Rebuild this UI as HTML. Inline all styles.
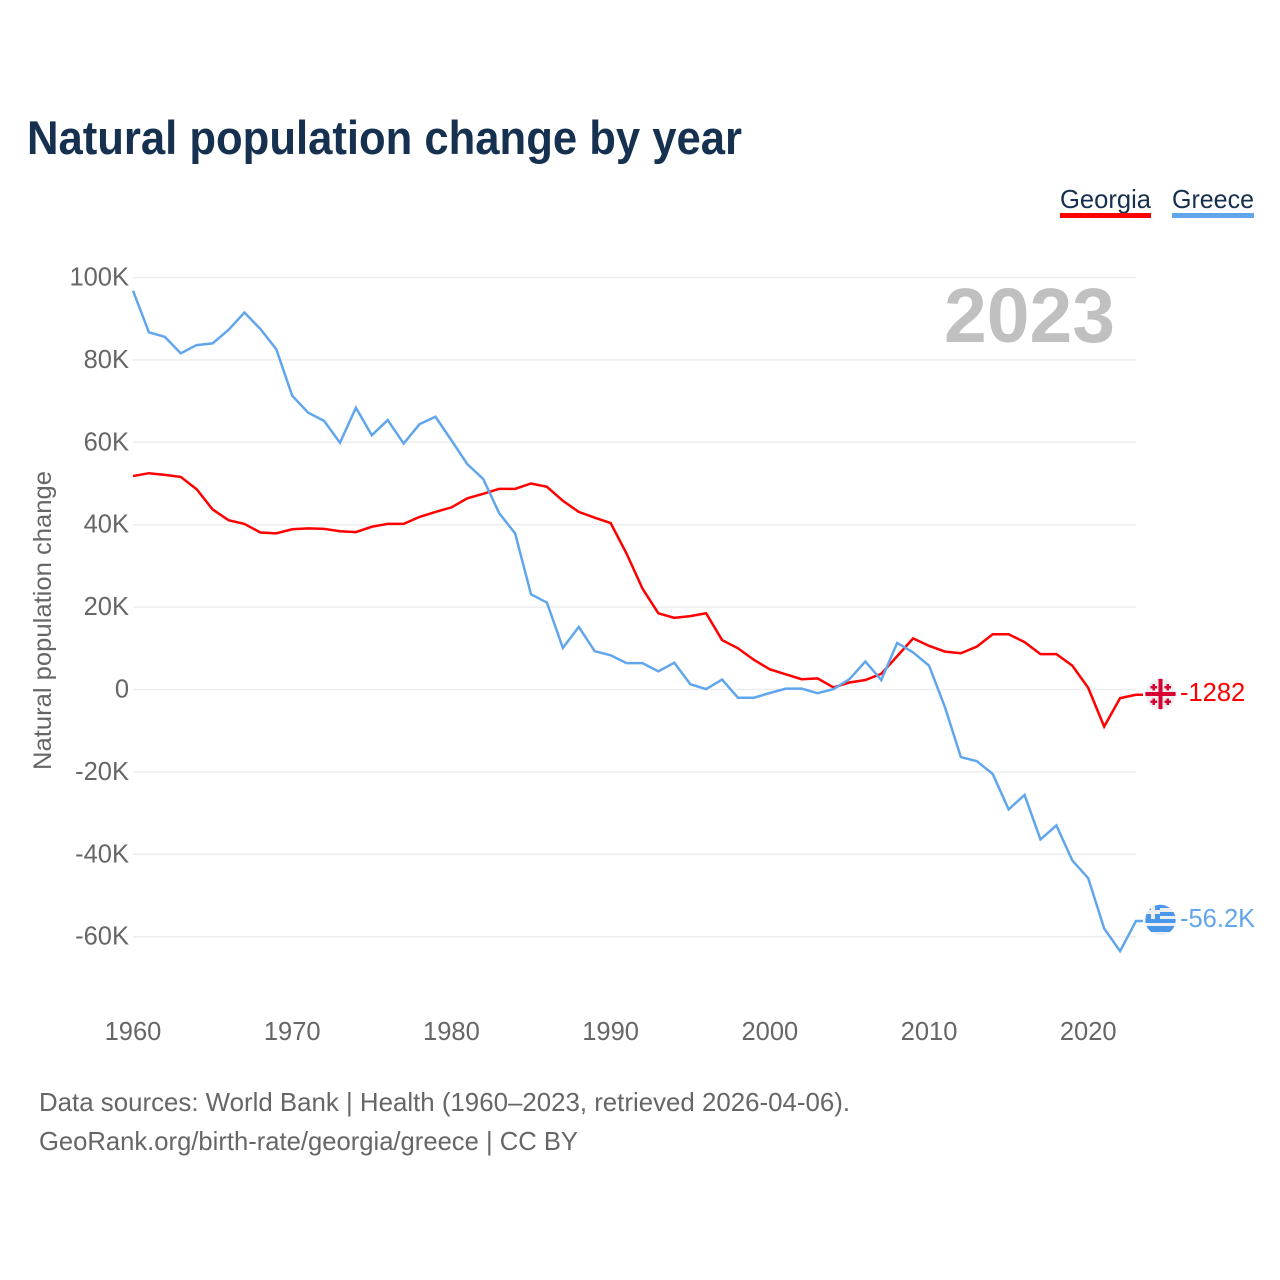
<!DOCTYPE html>
<html lang="en">
<head>
<meta charset="utf-8">
<title>Natural population change by year</title>
<style>
html,body{margin:0;padding:0;background:#fff;}
svg{display:block;font-family:"Liberation Sans",sans-serif;}
</style>
</head>
<body>
<svg id="chart" xmlns="http://www.w3.org/2000/svg" width="1280" height="1280" viewBox="0 0 1280 1280">
  <defs>
    <clipPath id="flag-clip-ge"><circle cx="1160.5" cy="694" r="15.2"/></clipPath>
    <clipPath id="flag-clip-gr"><circle cx="1160.5" cy="920" r="15.2"/></clipPath>
  </defs>
  <rect width="1280" height="1280" fill="#fff"/>
  <text x="27" y="154" font-size="47" font-weight="700" fill="#16304f" textLength="715" lengthAdjust="spacingAndGlyphs">Natural population change by year</text>

  <g>
    <text x="1060" y="208" font-size="26" fill="#16304f" textLength="91" lengthAdjust="spacingAndGlyphs">Georgia</text>
    <rect x="1060" y="213" width="91" height="5" fill="#ff0000"/>
  </g>
  <g>
    <text x="1172" y="208" font-size="26" fill="#16304f" textLength="82" lengthAdjust="spacingAndGlyphs">Greece</text>
    <rect x="1172" y="213" width="82" height="5" fill="#61a6ec"/>
  </g>

  <g id="grid"></g>
  <g id="y-ticks"></g>
  <g id="x-ticks"></g>

  <text x="944" y="342" font-size="77" font-weight="700" fill="#c0c0c0" textLength="171" lengthAdjust="spacingAndGlyphs">2023</text>

  <text transform="translate(51,770) rotate(-90)" font-size="25" fill="#666666" textLength="299" lengthAdjust="spacingAndGlyphs">Natural population change</text>

  <g id="series"></g>

  <g clip-path="url(#flag-clip-ge)">
    <rect x="1145" y="678" width="31" height="32" fill="#eeeeee"/>
    <rect x="1158.5" y="678" width="4" height="32" fill="#d80032"/>
    <rect x="1145" y="692" width="31" height="4" fill="#d80032"/>
    <path d="M1152.5 684h2.5v2h2v2.5h-2v2h-2.5v-2h-2v-2.5h2zM1166.5 684h2.5v2h2v2.5h-2v2h-2.5v-2h-2v-2.5h2zM1152.5 698.5h2.5v2h2v2.5h-2v2h-2.5v-2h-2v-2.5h2zM1166.5 698.5h2.5v2h2v2.5h-2v2h-2.5v-2h-2v-2.5h2z" fill="#d80032"/>
  </g>
  <g clip-path="url(#flag-clip-gr)">
    <rect x="1145" y="904" width="31" height="33" fill="#eeeeee"/>
    <rect x="1145" y="904" width="31" height="4" fill="#4a96ea"/>
    <rect x="1145" y="912" width="31" height="4" fill="#4a96ea"/>
    <rect x="1145" y="919" width="31" height="4" fill="#4a96ea"/>
    <rect x="1145" y="926" width="31" height="6" fill="#4a96ea"/>
    <rect x="1145" y="904" width="15" height="15" fill="#4a96ea"/>
    <rect x="1151" y="904" width="4" height="15" fill="#eeeeee"/>
    <rect x="1145" y="910" width="15" height="4" fill="#eeeeee"/>
  </g>

  <text id="value-georgia" x="1180" y="701" font-size="25.5" fill="#ff0000">-1282</text>
  <text id="value-greece" x="1180" y="927" font-size="25.5" fill="#61a6ec">-56.2K</text>

  <text x="39" y="1111" font-size="26" fill="#666666" textLength="811" lengthAdjust="spacingAndGlyphs">Data sources: World Bank | Health (1960–2023, retrieved 2026-04-06).</text>
  <text x="39" y="1150" font-size="26" fill="#666666" textLength="539" lengthAdjust="spacingAndGlyphs">GeoRank.org/birth-rate/georgia/greece | CC BY</text>
</svg>
<script>
const startYear = 1960;
const xTickYears = [1960, 1970, 1980, 1990, 2000, 2010, 2020];
const yTickValues = [100, 80, 60, 40, 20, 0, -20, -40, -60];
const yTickLabels = ["100K", "80K", "60K", "40K", "20K", "0", "-20K", "-40K", "-60K"];
const georgiaValues = [51.8,52.5,52.1,51.6,48.6,43.7,41.1,40.2,38.1,37.9,38.9,39.1,39.0,38.4,38.2,39.5,40.2,40.2,41.9,43.1,44.2,46.4,47.5,48.7,48.7,50.0,49.2,45.8,43.1,41.7,40.4,33.0,24.5,18.5,17.4,17.8,18.5,12.0,10.0,7.2,4.9,3.7,2.5,2.7,0.5,1.7,2.3,3.8,8.1,12.4,10.6,9.2,8.8,10.4,13.4,13.4,11.5,8.6,8.6,5.8,0.4,-9.0,-2.1,-1.282];
const greeceValues = [96.8,86.7,85.6,81.6,83.6,84.0,87.3,91.5,87.5,82.6,71.3,67.2,65.2,59.9,68.4,61.7,65.4,59.7,64.4,66.2,60.5,54.7,51.1,42.8,37.9,23.1,21.1,10.1,15.2,9.3,8.3,6.4,6.4,4.4,6.5,1.3,0.1,2.4,-2.0,-2.0,-0.85,0.2,0.2,-0.9,0.1,2.5,6.8,2.3,11.3,9.0,5.8,-4.3,-16.4,-17.4,-20.5,-29.1,-25.6,-36.4,-33.0,-41.5,-45.8,-58.0,-63.5,-56.2];

const NS = 'http://www.w3.org/2000/svg';
function xScale(year) { return 133 + (year - 1960) * (1136 - 133) / 63; }
function yScale(v) { return 689.5 - v * 4.12; }

const grid = document.getElementById('grid');
const yTicks = document.getElementById('y-ticks');
const xTicks = document.getElementById('x-ticks');
const series = document.getElementById('series');

yTickValues.forEach(function (v, i) {
  const line = document.createElementNS(NS, 'line');
  
  
  line.setAttribute('x1', 133);
  line.setAttribute('x2', 1136);
  line.setAttribute('y1', yScale(v));
  line.setAttribute('y2', yScale(v));
  line.setAttribute('stroke', '#eeeeee');
  line.setAttribute('stroke-width', '1.5');
  grid.appendChild(line);

  const label = document.createElementNS(NS, 'text');
  
  
  label.setAttribute('x', 129);
  label.setAttribute('y', yScale(v) + 8);
  label.setAttribute('text-anchor', 'end');
  label.setAttribute('font-size', '25.5');
  label.setAttribute('fill', '#666666');
  label.textContent = yTickLabels[i];
  yTicks.appendChild(label);
});

xTickYears.forEach(function (year) {
  const label = document.createElementNS(NS, 'text');
  
  
  label.setAttribute('x', xScale(year));
  label.setAttribute('y', 1040);
  label.setAttribute('text-anchor', 'middle');
  label.setAttribute('font-size', '25.5');
  label.setAttribute('fill', '#666666');
  label.textContent = String(year);
  xTicks.appendChild(label);
});

function pathFor(values) {
  const pts = values.map(function (v, i) {
    return xScale(startYear + i).toFixed(2) + ',' + yScale(v).toFixed(2);
  });
  const last = values[values.length - 1];
  pts.push((xScale(startYear + values.length - 1) + 7).toFixed(2) + ',' + yScale(last).toFixed(2));
  return 'M' + pts.join('L');
}

const greeceLine = document.createElementNS(NS, 'path');


greeceLine.setAttribute('d', pathFor(greeceValues));
greeceLine.setAttribute('fill', 'none');
greeceLine.setAttribute('stroke', '#61a6ec');
greeceLine.setAttribute('stroke-width', '2.5');
greeceLine.setAttribute('stroke-linejoin', 'miter');
series.appendChild(greeceLine);

const georgiaLine = document.createElementNS(NS, 'path');


georgiaLine.setAttribute('d', pathFor(georgiaValues));
georgiaLine.setAttribute('fill', 'none');
georgiaLine.setAttribute('stroke', '#ff0000');
georgiaLine.setAttribute('stroke-width', '2.5');
georgiaLine.setAttribute('stroke-linejoin', 'miter');
series.insertBefore(georgiaLine, greeceLine);
</script>
</body>
</html>
